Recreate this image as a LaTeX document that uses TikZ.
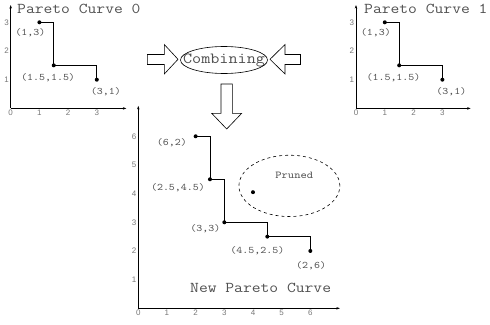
\documentclass[tikz,border=0pt]{standalone}
\usepackage{fontspec}
\newfontfamily\courfont[FakeStretch=1.14]{Latin Modern Mono}
\newfontfamily\tickfont{Liberation Sans}
\usetikzlibrary{arrows.meta}
\definecolor{txt}{HTML}{505050}
\definecolor{tk}{HTML}{777777}
\begin{document}
\begin{tikzpicture}[x=1pt,y=-1pt,
  axis/.style={line width=0.75pt, -{Stealth[length=3.5pt,width=2.5pt]}},
  curve/.style={line width=0.75pt},
  dot/.style={circle, fill=black, inner sep=0pt, minimum size=4pt},
  lbl/.style={font=\courfont\fontsize{10}{12}\selectfont, text=txt, inner sep=0pt},
  ttl/.style={font=\courfont\fontsize{15}{18}\selectfont, text=txt, inner sep=0pt},
  tick/.style={font=\tickfont\fontsize{8}{9}\selectfont, text=tk, inner sep=0pt},
  blockarrow/.style={draw, line width=0.6pt, fill=white, line join=miter}]
\useasboundingbox (0,0) rectangle (490,324);

% ---------- Pareto Curve 0 ----------
\begin{scope}[shift={(10.7,108.4)}, x=28.7pt, y=28.7pt]
  \coordinate (L0) at (0,0);
  \coordinate (Lx) at (4.03,0);
  \coordinate (Ly) at (0,3.6);
  \draw[axis] (L0) -- (Lx);
  \draw[axis] (L0) -- (Ly);
  \foreach \i in {0,...,3} \node[tick, anchor=north] (Lxt\i) at (\i,-0.06) {\i};
  \foreach \i in {1,2,3} \node[tick, anchor=east] (Lyt\i) at (-0.06,\i) {\i};
  \node[dot] (La) at (1,3) {};
  \node[dot] (Lb) at (1.5,1.5) {};
  \node[dot] (Lc) at (3,1) {};
  \draw[curve] (La.center) -| (Lb.center) -| (Lc.center);
  \node[lbl, xshift=-9pt, yshift=-10.7pt] (Lla) at (La) {(1,3)};
  \node[lbl, xshift=-5.7pt, yshift=-12.4pt] (Llb) at (Lb) {(1.5,1.5)};
  \node[lbl, xshift=9pt, yshift=-12pt] (Llc) at (Lc) {(3,1)};
\end{scope}
\node[ttl, anchor=base west] (Lt) at (17,13.5) {Pareto Curve 0};

% ---------- Pareto Curve 1 ----------
\begin{scope}[shift={(356,108.4)}, x=28.8pt, y=28.7pt]
  \coordinate (R0) at (0,0);
  \coordinate (Rx) at (3.98,0);
  \coordinate (Ry) at (0,3.6);
  \draw[axis] (R0) -- (Rx);
  \draw[axis] (R0) -- (Ry);
  \foreach \i in {0,...,3} \node[tick, anchor=north] (Rxt\i) at (\i,-0.06) {\i};
  \foreach \i in {1,2,3} \node[tick, anchor=east] (Ryt\i) at (-0.06,\i) {\i};
  \node[dot] (Ra) at (1,3) {};
  \node[dot] (Rb) at (1.5,1.5) {};
  \node[dot] (Rc) at (3,1) {};
  \draw[curve] (Ra.center) -| (Rb.center) -| (Rc.center);
  \node[lbl, xshift=-9pt, yshift=-10.7pt] (Rla) at (Ra) {(1,3)};
  \node[lbl, xshift=-5.7pt, yshift=-12.4pt] (Rlb) at (Rb) {(1.5,1.5)};
  \node[lbl, xshift=9pt, yshift=-12pt] (Rlc) at (Rc) {(3,1)};
\end{scope}
\node[ttl, anchor=base west] (Rt) at (364,13.5) {Pareto Curve 1};

% ---------- Combining ----------
\node[ttl, font=\courfont\fontsize{15.5}{18}\selectfont] (comb) at (224,60) {Combining};
\draw[line width=0.6pt] (comb.center) ellipse [x radius=43.5, y radius=13.5];
\draw[blockarrow] (147.3,54.5) -- (164.3,54.5) -- (164.3,44.5) -- (178,59.3) -- (164.3,74) -- (164.3,64.5) -- (147.3,64.5) -- cycle;
\draw[blockarrow] (300.5,54.5) -- (285,54.5) -- (285,44.5) -- (270,59.3) -- (285,74) -- (285,64.5) -- (300.5,64.5) -- cycle;
\draw[blockarrow] (221,84) -- (232.3,84) -- (232.3,113.3) -- (241.7,113.3) -- (226.7,129) -- (211.7,113.3) -- (221,113.3) -- cycle;

% ---------- New Pareto Curve ----------
\begin{scope}[shift={(138.3,308.3)}, x=28.67pt, y=28.67pt]
  \coordinate (N0) at (0,0);
  \coordinate (Nx) at (7.03,0);
  \coordinate (Ny) at (0,7.06);
  \draw[axis] (N0) -- (Nx);
  \draw[axis] (N0) -- (Ny);
  \foreach \i in {0,...,6} \node[tick, anchor=north] (Nxt\i) at (\i,-0.06) {\i};
  \foreach \i in {1,...,6} \node[tick, anchor=east] (Nyt\i) at (-0.06,\i) {\i};
  \node[dot] (Na) at (2,6) {};
  \node[dot] (Nb) at (2.5,4.5) {};
  \node[dot] (Nc) at (3,3) {};
  \node[dot] (Nd) at (4.5,2.5) {};
  \node[dot] (Ne) at (6,2) {};
  \draw[curve] (Na.center) -| (Nb.center) -| (Nc.center) -| (Nd.center) -| (Ne.center);
  \node[lbl, xshift=-23.7pt, yshift=-6.7pt] (Nla) at (Na) {(6,2)};
  \node[lbl, xshift=-32pt, yshift=-8pt] (Nlb) at (Nb) {(2.5,4.5)};
  \node[lbl, xshift=-19pt, yshift=-6pt] (Nlc) at (Nc) {(3,3)};
  \node[lbl, xshift=-10pt, yshift=-14pt] (Nld) at (Nd) {(4.5,2.5)};
  \node[lbl, xshift=0.7pt, yshift=-14.7pt] (Nle) at (Ne) {(2,6)};
  \node[dot] (Np) at (4,4.05) {};
  \coordinate (Pc) at (5.27,4.27);
  \draw[dashed, line width=0.6pt] (Pc) ellipse [x radius=1.76, y radius=1.07];
  \node[lbl, font=\courfont\fontsize{10.5}{12}\selectfont] (Pt) at (5.44,4.625) {Pruned};
\end{scope}
\node[ttl, anchor=base west] (Nt) at (190,292) {New Pareto Curve};
\end{tikzpicture}
\end{document}
